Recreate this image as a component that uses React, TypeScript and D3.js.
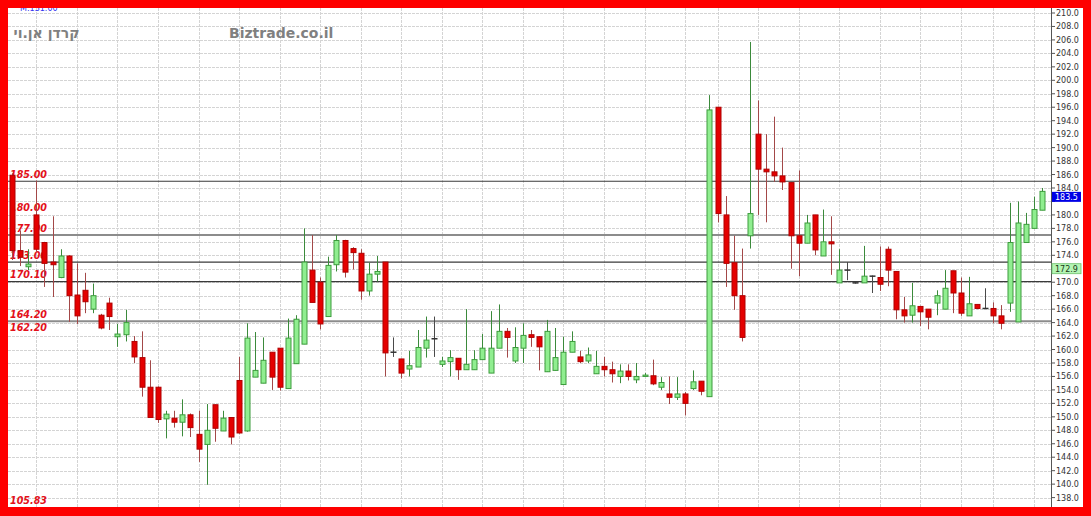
import React from "react";
import * as d3 from "d3";

// Daily OHLC candles, oldest first
const candleOpen = [
  185.9, 174.7, 172.3, 180.0, 175.9, 173.0, 170.7, 173.9, 168.1, 168.8,
  166.0, 165.1, 166.9, 161.9, 162.2, 161.2, 158.8, 154.4, 154.4, 149.7,
  149.8, 149.2, 150.3, 147.4, 145.9, 151.8, 147.9, 149.9, 155.4, 147.9,
  155.9, 155.0, 159.6, 160.2, 154.2, 157.9, 160.8, 171.8, 170.0, 164.9,
  172.6, 176.2, 175.0, 174.3, 168.7, 171.2, 173.0, 159.6, 158.6, 157.1,
  157.4, 160.2, 161.6, 157.8, 158.2, 158.7, 157.0, 157.0, 158.5, 156.5,
  160.2, 162.7, 158.3, 160.2, 162.2, 161.9, 156.7, 156.9, 154.8, 159.6,
  158.9, 158.3, 156.4, 157.5, 157.0, 156.0, 156.8, 155.5, 156.0, 156.1,
  154.4, 153.4, 152.9, 153.4, 154.2, 155.3, 153.0, 196.0, 180.0, 172.9,
  168.0, 176.9, 192.0, 186.8, 186.4, 185.8, 184.8, 176.9, 175.8, 180.0,
  173.9, 176.0, 169.9, 171.8, 169.9, 169.9, 170.9, 170.7, 174.9, 171.6,
  165.9, 165.1, 166.4, 166.0, 166.9, 166.0, 171.7, 168.4, 165.0, 166.7,
  166.1, 166.1, 165.0, 166.9, 164.1, 175.9, 178.0, 180.7,
];
const candleHigh = [
  186.2, 177.7, 174.9, 185.1, 176.0, 179.8, 174.9, 174.0, 172.8, 171.4,
  169.8, 165.3, 167.7, 163.8, 165.9, 162.0, 162.7, 158.4, 154.5, 150.9,
  150.9, 152.6, 150.5, 150.9, 151.9, 151.8, 150.9, 149.9, 158.9, 163.9,
  162.6, 161.8, 159.6, 160.2, 164.6, 165.1, 178.0, 177.0, 170.7, 173.8,
  177.0, 176.3, 175.2, 174.9, 172.9, 173.9, 173.0, 161.8, 158.6, 159.8,
  162.9, 164.9, 164.9, 158.9, 159.9, 158.7, 166.0, 159.9, 162.3, 165.7,
  166.7, 163.2, 163.3, 163.9, 162.9, 162.0, 164.4, 163.2, 161.9, 162.7,
  159.8, 160.3, 159.8, 158.9, 158.2, 157.8, 157.8, 158.0, 156.5, 158.5,
  155.9, 156.0, 155.9, 153.7, 156.9, 155.3, 197.8, 196.0, 182.8, 176.9,
  175.0, 205.7, 197.0, 192.0, 194.6, 190.0, 184.8, 186.6, 180.0, 180.0,
  180.8, 179.8, 174.9, 173.0, 170.0, 175.4, 171.0, 175.3, 175.3, 171.6,
  167.8, 169.9, 166.5, 166.0, 168.8, 171.8, 171.7, 170.7, 170.8, 166.7,
  169.1, 167.0, 166.6, 181.8, 182.0, 180.3, 182.7, 184.0,
];
const candleLow = [
  173.3, 172.4, 171.8, 174.5, 169.3, 167.8, 170.6, 164.1, 163.8, 165.4,
  165.4, 163.0, 162.9, 160.4, 161.2, 158.0, 153.0, 149.9, 149.1, 146.8,
  148.4, 147.1, 147.0, 143.3, 139.9, 146.3, 147.9, 145.9, 147.5, 147.8,
  155.9, 155.0, 154.0, 153.9, 154.2, 157.9, 160.8, 167.0, 163.0, 164.9,
  171.6, 170.7, 171.9, 167.4, 168.0, 170.1, 156.0, 158.9, 155.7, 156.0,
  157.4, 158.8, 158.9, 157.4, 156.0, 155.5, 157.0, 157.0, 158.5, 156.5,
  160.2, 158.8, 158.0, 158.0, 160.4, 156.9, 156.7, 156.9, 154.8, 159.6,
  158.0, 158.0, 156.4, 156.0, 155.1, 155.0, 155.4, 155.0, 156.0, 154.7,
  154.0, 151.9, 152.5, 150.2, 154.0, 153.2, 153.0, 178.9, 169.3, 165.9,
  161.2, 175.0, 180.0, 178.9, 184.9, 183.7, 172.0, 170.9, 175.8, 174.0,
  173.9, 171.1, 169.9, 170.3, 169.8, 169.9, 168.4, 168.7, 169.4, 164.5,
  164.0, 164.0, 163.5, 163.0, 165.1, 166.0, 165.4, 165.0, 165.0, 166.0,
  166.1, 163.9, 163.0, 165.6, 164.1, 175.9, 178.0, 180.7,
];
const candleClose = [
  174.7, 173.7, 172.7, 174.9, 172.8, 172.6, 173.9, 168.0, 165.0, 167.1,
  168.0, 163.2, 164.9, 162.3, 164.0, 158.9, 154.4, 149.9, 149.6, 150.4,
  149.2, 150.3, 148.4, 145.2, 148.0, 148.3, 149.8, 147.0, 147.6, 161.7,
  156.9, 158.4, 155.9, 154.4, 161.7, 164.5, 173.0, 167.0, 163.8, 172.5,
  176.2, 171.5, 174.4, 168.7, 171.2, 171.6, 159.5, 159.6, 156.5, 157.6,
  160.3, 161.4, 161.6, 158.3, 158.8, 157.0, 157.8, 158.5, 160.2, 160.2,
  162.7, 161.8, 160.3, 162.1, 161.8, 160.4, 162.7, 158.8, 159.6, 161.2,
  158.2, 159.2, 157.5, 157.0, 156.4, 156.8, 156.0, 156.0, 156.2, 154.9,
  155.1, 152.9, 153.4, 152.0, 155.2, 153.8, 195.6, 180.2, 172.8, 168.0,
  161.8, 180.2, 186.8, 186.4, 185.8, 184.9, 176.9, 175.8, 178.8, 174.8,
  176.0, 175.7, 171.8, 171.8, 169.9, 170.9, 170.9, 169.7, 171.8, 165.9,
  165.0, 166.5, 165.6, 164.8, 168.0, 169.1, 168.4, 165.4, 166.8, 166.1,
  166.1, 165.0, 163.9, 175.9, 178.8, 178.6, 180.8, 183.5,
];

// First trading day of each week (candle index) for the vertical grid
const weekStarts = [
  3, 8, 13, 18, 23, 28, 33, 38, 43, 48, 53, 58, 63, 68, 73, 78, 83, 87, 92,
  97, 102, 107, 112, 117, 121, 126,
];

// Right-hand price scale ticks
const priceTicks = [
  138, 140, 142, 144, 146, 148, 150, 152, 154, 156, 158, 160, 162, 164, 166,
  168, 170, 172, 174, 176, 178, 180, 182, 184, 186, 188, 190, 192, 194, 196,
  198, 200, 202, 204, 206, 208, 210,
];

// Support / resistance levels
const levelLabels = [185.0, 180.0, 177.0, 173.0, 170.1, 164.2, 162.2];
const darkLevels = [185.0, 173.0, 170.1];
const greyLevels = [177.0, 164.2];
const floorLabel = "105.83";

const lastPrice = 183.5;
const referencePrice = 172.9;
const stockName = "קרדן אן.וי";
const siteName = "Biztrade.co.il";
const minLabel = "M:131.00";

const W = 1091;
const H = 516;
const PLOT_L = 8;
const PLOT_R = 1051;
const PLOT_T = 8;
const PLOT_B = 507;
const TAG_H = 10;

export default function App() {
  const idx = candleOpen.map((_, i) => i);
  const x = d3.scalePoint<number>().domain(idx).range([12, 1042]);
  const y = d3.scaleLinear().domain([138, 210]).range([497.6, 13]);

  const gridStroke = "#d4d4d4";

  // tick labels sitting under a price tag are covered by it
  const tagTops = [y(lastPrice) + 0.5, y(referencePrice) + 1];
  const hiddenByTag = (t: number) =>
    tagTops.some((top) => y(t) + 3 > top && y(t) - 3 < top + TAG_H);

  return (
    <svg
      width={W}
      height={H}
      style={{ position: "absolute", left: 0, top: 0, display: "block" }}
      xmlns="http://www.w3.org/2000/svg"
    >
      <defs>
        <clipPath id="plotClip">
          <rect x={PLOT_L} y={PLOT_T} width={PLOT_R - PLOT_L} height={PLOT_B - PLOT_T} />
        </clipPath>
      </defs>
      <rect x={0} y={0} width={W} height={H} fill="#ffffff" />

      <g clipPath="url(#plotClip)">
        {/* horizontal grid */}
        {priceTicks.map((t) => (
          <line
            key={"h" + t}
            x1={PLOT_L}
            x2={PLOT_R}
            y1={Math.round(y(t)) + 0.5}
            y2={Math.round(y(t)) + 0.5}
            stroke={gridStroke}
            strokeDasharray="3,1"
          />
        ))}
        {/* vertical grid, one per week */}
        {weekStarts.map((i) => (
          <line
            key={"v" + i}
            x1={Math.round(x(i)!) + 0.5}
            x2={Math.round(x(i)!) + 0.5}
            y1={PLOT_T}
            y2={PLOT_B}
            stroke={gridStroke}
            strokeDasharray="3,1"
          />
        ))}

        {/* level lines */}
        {greyLevels.map((v) => (
          <line key={"g" + v} x1={PLOT_L} x2={PLOT_R} y1={y(v)} y2={y(v)} stroke="#8c8c8c" strokeWidth={2} />
        ))}
        {darkLevels.map((v) => (
          <line key={"d" + v} x1={PLOT_L} x2={PLOT_R} y1={y(v)} y2={y(v)} stroke="#3a3a3a" strokeWidth={1.2} />
        ))}

        {/* level labels */}
        {levelLabels.map((v) => (
          <text
            key={"l" + v}
            x={10}
            y={y(v) - 3.5}
            fontFamily="DejaVu Sans, Verdana, sans-serif"
            fontSize={9.6}
            fontWeight="bold"
            fontStyle="italic"
            fill="#e3101a"
          >
            {v.toFixed(2)}
          </text>
        ))}
        <text
          x={10}
          y={504}
          fontFamily="DejaVu Sans, Verdana, sans-serif"
          fontSize={9.6}
          fontWeight="bold"
          fontStyle="italic"
          fill="#e3101a"
        >
          {floorLabel}
        </text>

        {/* titles */}
        <text
          x={46.5}
          y={37.5}
          textAnchor="middle"
          fontFamily="DejaVu Sans, sans-serif"
          fontSize={14}
          fontWeight="bold"
          fill="#808080"
        >
          {stockName}
        </text>
        <text
          x={229}
          y={37.5}
          fontFamily="DejaVu Sans, Verdana, sans-serif"
          fontSize={14}
          fontWeight="bold"
          fill="#808080"
        >
          {siteName}
        </text>

        {/* candles */}
        {idx.map((i) => {
          const o = candleOpen[i];
          const c = candleClose[i];
          const hi = candleHigh[i];
          const lo = candleLow[i];
          const cx = Math.round(x(i)!) + 0.5;
          const up = c > o;
          const flat = c === o;
          const wick = flat ? "#4a4a4a" : up ? "#3b8a3b" : "#a34848";
          const top = y(Math.max(o, c));
          const bot = y(Math.min(o, c));
          return (
            <g key={"c" + i}>
              <line x1={cx} x2={cx} y1={y(hi)} y2={y(lo)} stroke={wick} strokeWidth={1} />
              {flat ? (
                <line x1={cx - 3} x2={cx + 3} y1={top} y2={top} stroke="#333333" strokeWidth={1.5} />
              ) : (
                <rect
                  x={cx - 2.5}
                  y={top}
                  width={5}
                  height={Math.max(1, bot - top)}
                  fill={up ? "#90ee90" : "#e40000"}
                  stroke={up ? "#3c9b3c" : "#b00000"}
                  strokeWidth={1}
                />
              )}
            </g>
          );
        })}
      </g>

      {/* price axis */}
      <line x1={PLOT_R + 0.5} x2={PLOT_R + 0.5} y1={PLOT_T} y2={PLOT_B} stroke="#555555" />
      {priceTicks.map((t) => (
        <g key={"t" + t}>
          <line x1={PLOT_R} x2={PLOT_R + 4} y1={y(t)} y2={y(t)} stroke="#555555" />
          {!hiddenByTag(t) && (
            <text
              x={1056}
              y={y(t) + 3}
              fontFamily="DejaVu Sans, Verdana, sans-serif"
              fontSize={8}
              fill="#333333"
            >
              {t.toFixed(1)}
            </text>
          )}
        </g>
      ))}

      {/* reference price tag */}
      <rect x={1052} y={tagTops[1]} width={29} height={TAG_H} fill="#b4f5b4" stroke="#6cc06c" strokeWidth={0.8} />
      <text
        x={1055}
        y={tagTops[1] + 8}
        fontFamily="DejaVu Sans, Verdana, sans-serif"
        fontSize={8}
        fill="#1a3a1a"
      >
        {referencePrice.toFixed(1)}
      </text>

      {/* last price tag */}
      <rect x={1052} y={tagTops[0]} width={29} height={TAG_H} fill="#0000e6" />
      <text
        x={1055}
        y={tagTops[0] + 8}
        fontFamily="DejaVu Sans, Verdana, sans-serif"
        fontSize={8}
        fill="#ffffff"
      >
        {lastPrice.toFixed(1)}
      </text>

      {/* minimum marker, partly under the frame */}
      <text x={20} y={10.5} fontFamily="DejaVu Sans, Verdana, sans-serif" fontSize={8} fill="#3030f0">
        {minLabel}
      </text>

      {/* red frame */}
      <rect x={0} y={0} width={W} height={PLOT_T} fill="#fe0000" />
      <rect x={0} y={0} width={PLOT_L} height={H} fill="#fe0000" />
      <rect x={1083} y={0} width={W - 1083} height={H} fill="#fe0000" />
      <rect x={0} y={PLOT_B} width={W} height={H - PLOT_B} fill="#fe0000" />
    </svg>
  );
}
